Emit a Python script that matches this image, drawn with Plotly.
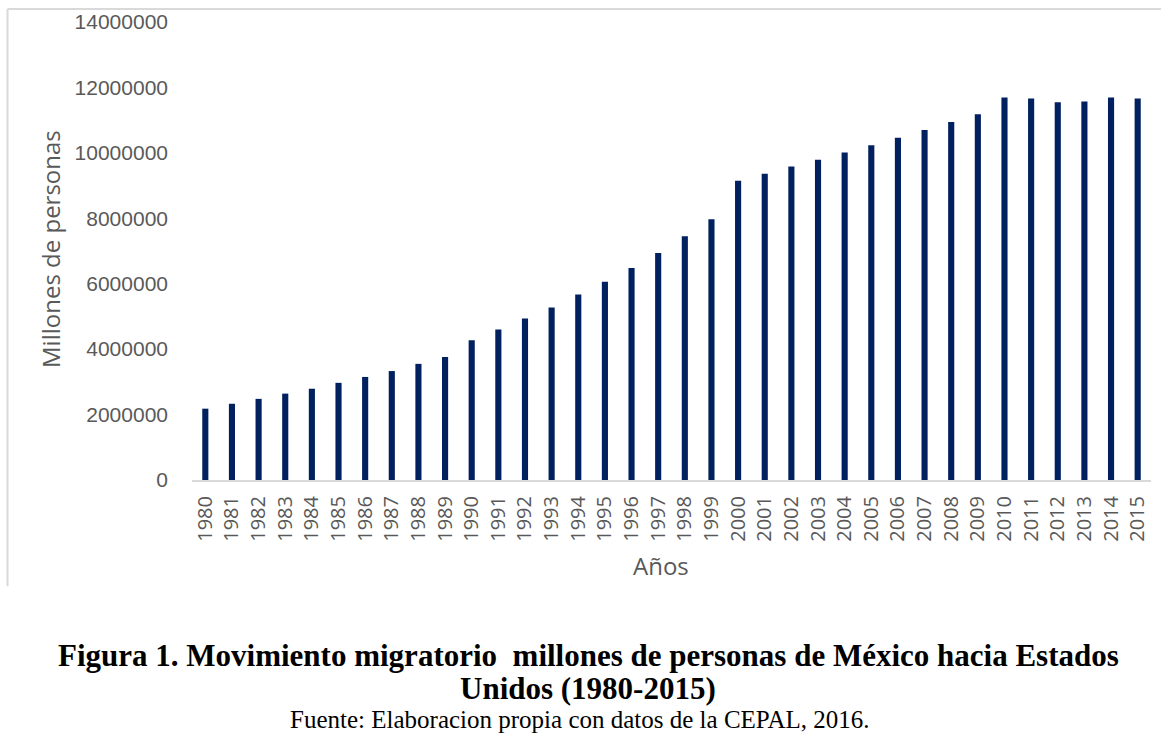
import plotly.graph_objects as go

# data
years = [str(y) for y in range(1980, 2016)]
personas = [
    2180000, 2330000, 2480000, 2640000, 2790000, 2970000, 3150000, 3330000,
    3550000, 3760000, 4270000, 4600000, 4940000, 5270000, 5670000, 6060000,
    6480000, 6940000, 7450000, 7970000, 9150000, 9360000, 9580000, 9790000,
    10010000, 10230000, 10460000, 10700000, 10940000, 11180000, 11690000,
    11660000, 11550000, 11570000, 11690000, 11660000,
]
y_ticks = [0, 2000000, 4000000, 6000000, 8000000, 10000000, 12000000, 14000000]

titulo_1 = "<b>Figura 1. Movimiento migratorio  millones de personas de México hacia Estados</b>"
titulo_2 = "<b>Unidos (1980-2015)</b>"
fuente = "Fuente: Elaboracion propia con datos de la CEPAL, 2016."

W, H = 1161, 748
L, R, T, B = 192, 10, 18, 268
pw, ph = W - L - R, H - T - B


def px(x):  # pixel -> paper x
    return (x - L) / pw


def py(y):  # pixel -> paper y
    return (H - B - y) / ph


grey = "#595959"
border = "#d9d9d9"


def note(text, x, y, size, family, color, angle=0):
    return dict(text=text, xref="paper", yref="paper", x=px(x), y=py(y),
                xanchor="center", yanchor="middle", textangle=angle, showarrow=False,
                font=dict(family=family, size=size, color=color))


fig = go.Figure()
fig.add_trace(go.Bar(x=years, y=personas, marker=dict(color="#002060", line=dict(width=0))))

fig.update_layout(
    width=W, height=H,
    margin=dict(l=L, r=R, t=T, b=B),
    plot_bgcolor="white", paper_bgcolor="white",
    bargap=0.77, showlegend=False,
    xaxis=dict(
        type="category", tickangle=-90, showgrid=False, ticks="",
        showline=True, linecolor=border, linewidth=2, ticklabelstandoff=6,
        tickfont=dict(family="Open Sans", size=20, color=grey),
    ),
    yaxis=dict(
        range=[0, 14000000], tickvals=y_ticks, tickformat="d",
        showgrid=False, zeroline=False, ticks="", ticklabelstandoff=23,
        tickfont=dict(family="Liberation Sans", size=21, color=grey),
    ),
    shapes=[
        dict(type="line", xref="paper", yref="paper", x0=px(7.5), x1=px(7.5), y0=py(5), y1=py(587),
             line=dict(color=border, width=2)),
        dict(type="line", xref="paper", yref="paper", x0=px(7.5), x1=px(1170), y0=py(5), y1=py(5),
             line=dict(color=border, width=2)),
    ],
    annotations=[
        note("Millones de personas", 50, 247, 24, "Open Sans", grey, angle=-90),
        note("Años", 661, 566, 24, "Open Sans", grey),
        note(titulo_1, 588, 657, 31, "Liberation Serif", "black"),
        note(titulo_2, 588, 690, 31, "Liberation Serif", "black"),
        note(fuente, 580, 722, 25, "Liberation Serif", "black"),
    ],
)

fig.write_html("out.html", config={"displayModeBar": False},
               post_script="document.body.style.margin='0';")
